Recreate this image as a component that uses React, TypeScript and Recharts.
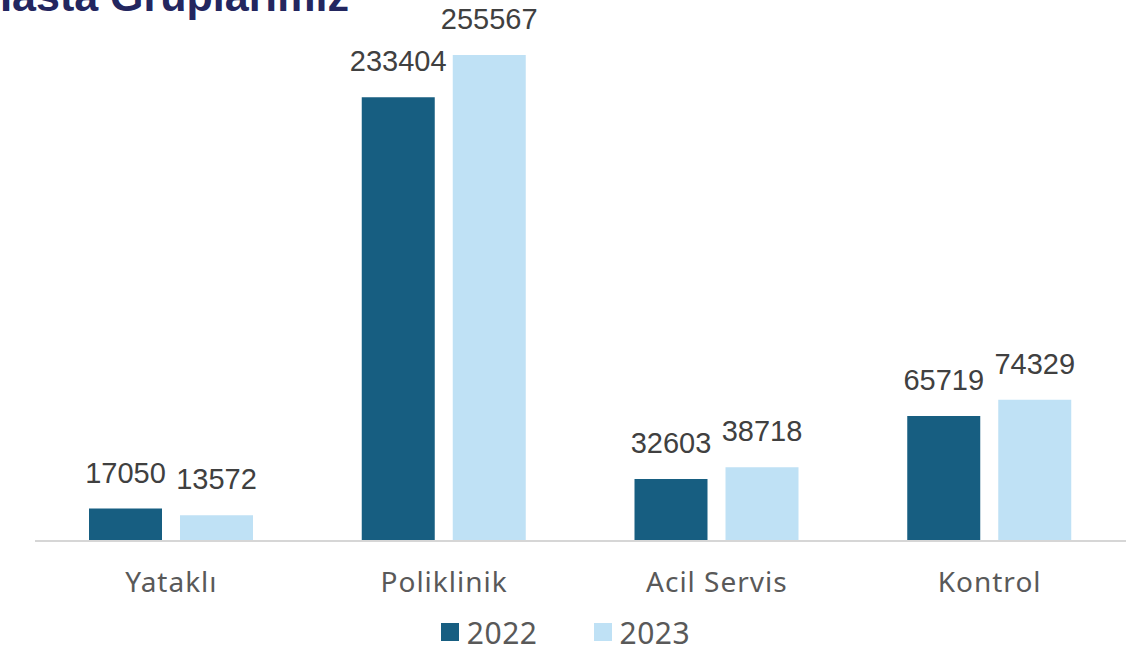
import React from 'react';
import { BarChart, Bar, XAxis, YAxis, Legend, LabelList } from 'recharts';

const categories = ['Yataklı', 'Poliklinik', 'Acil Servis', 'Kontrol'];
const values2022 = [17050, 233404, 32603, 65719];
const values2023 = [13572, 255567, 38718, 74329];
const seriesNames = ['2022', '2023'];
const seriesColors = ['#175e81', '#bfe1f5'];

const data = categories.map((name, i) => ({
  name,
  y2022: values2022[i],
  y2023: values2023[i],
}));

const tickFont = '"Noto Sans", sans-serif';
const labelFont = '"Liberation Sans", Arial, sans-serif';

const CustomLegend = () => (
  <div style={{ display: 'flex', justifyContent: 'center', alignItems: 'center', height: 40, paddingRight: 30, fontFamily: tickFont, fontSize: 30, color: '#595959', letterSpacing: 0.5 }}>
    {seriesNames.map((s, i) => (
      <div key={s} style={{ display: 'flex', alignItems: 'center', marginRight: i === 0 ? 56 : 0 }}>
        <span style={{ display: 'inline-block', width: 18, height: 18, background: seriesColors[i], marginRight: 8 }} />
        <span>{s}</span>
      </div>
    ))}
  </div>
);

export default function App() {
  return (
    <div style={{ position: 'fixed', top: 0, left: 0, width: 1139, height: 652, overflow: 'hidden', background: '#fff' }}>
      <div
        style={{
          position: 'absolute',
          left: -19,
          top: -28,
          fontFamily: '"Liberation Sans", Arial, sans-serif',
          fontWeight: 700,
          fontSize: 43,
          lineHeight: '48px',
          color: '#23265f',
          whiteSpace: 'nowrap',
        }}
      >
        Hasta Gruplarımız
      </div>
      <BarChart width={1139} height={652} data={data} margin={{ top: 55, right: 13, left: 35, bottom: 0 }} barSize={73} barGap={18}>
        <XAxis
          dataKey="name"
          axisLine={{ stroke: '#d6d6d6', strokeWidth: 2 }}
          tickLine={false}
          height={71}
          tickMargin={25}
          tick={{ fill: '#595959', fontSize: 28, fontFamily: tickFont, letterSpacing: 1 }}
        />
        <YAxis hide domain={[0, 'dataMax']} />
        <Legend verticalAlign="bottom" content={<CustomLegend />} />
        <Bar dataKey="y2022" name="2022" fill={seriesColors[0]} isAnimationActive={false}>
          <LabelList dataKey="y2022" position="top" offset={26} style={{ fill: '#404040', fontSize: 29, fontFamily: labelFont }} />
        </Bar>
        <Bar dataKey="y2023" name="2023" fill={seriesColors[1]} isAnimationActive={false}>
          <LabelList dataKey="y2023" position="top" offset={26} style={{ fill: '#404040', fontSize: 29, fontFamily: labelFont }} />
        </Bar>
      </BarChart>
    </div>
  );
}
